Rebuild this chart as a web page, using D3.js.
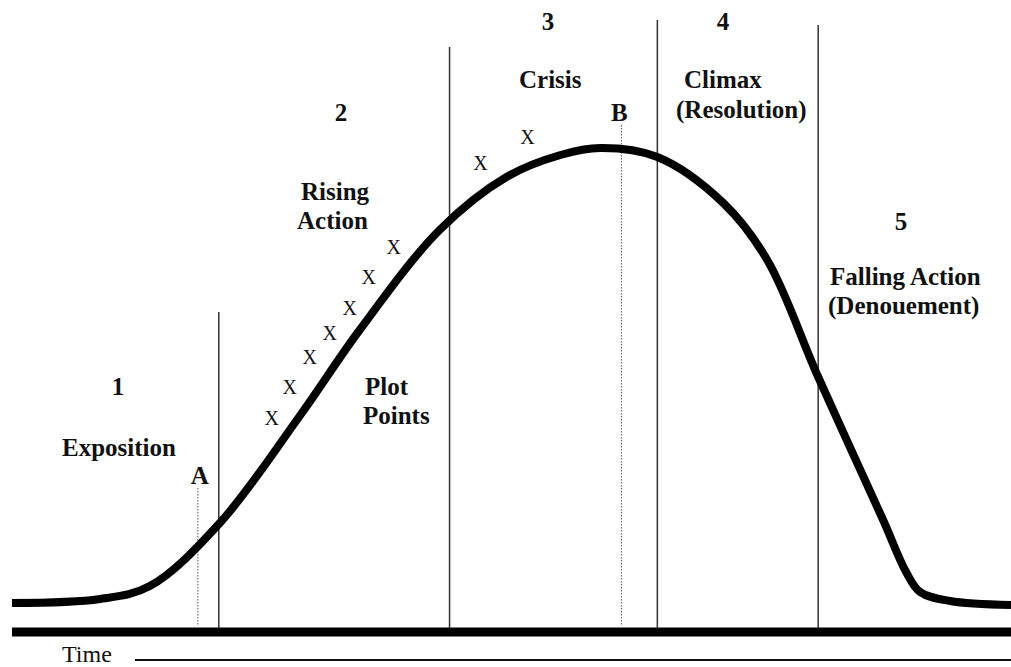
<!DOCTYPE html>
<html>
<head>
<meta charset="utf-8">
<script src="https://cdn.jsdelivr.net/npm/d3@7"></script>
<style>
body { margin: 0; background: #fff; }
svg text { font-family: "Liberation Serif", "Times New Roman", serif; fill: #111; }
</style>
</head>
<body>
<div id="chart"></div>
<script>
var width = 1011;
var height = 667;

// dramatic arc: time (0-100) vs tension
var arc_time = [0, 8.8, 13.8, 20.8, 28.8, 34.8, 42.8, 49.5, 54.9, 58.9, 64.6, 71.2, 75.6, 80.7, 87.2, 89.5, 90.9, 93.9, 100];
var arc_tension = [5.8, 6.6, 9.2, 21.8, 43.2, 60.4, 80.4, 91, 95.4, 96.8, 95, 85.8, 74.4, 51, 22.4, 12, 8, 6.2, 5.4];

// stage dividers
var divider_time = [20.7, 43.8, 64.6, 80.7];
var divider_top = [64, 117, 122.4, 121.4];

// points A and B (dotted markers)
var marker_names = ['A', 'B'];
var marker_time = [18.6, 61];
var marker_top = [28.8, 101.4];

// plot points (X)
var plot_time = [26.0, 27.8, 29.8, 31.8, 33.8, 35.7, 38.2, 46.9, 51.6];
var plot_tension = [42.8, 49, 55, 59.8, 64.8, 71, 77, 93.8, 99];

var stage_numbers = ['1', '2', '3', '4', '5'];
var stage_names = [['Exposition'], ['Rising', 'Action'], ['Crisis'], ['Climax', '(Resolution)'], ['Falling Action', '(Denouement)'], ['Plot', 'Points']];

var x = d3.scaleLinear().domain([0, 100]).range([12, 1011]);
var y = d3.scaleLinear().domain([0, 100]).range([632, 132]);

var svg = d3.select('#chart')
	.append('svg')
	.attr('width', width)
	.attr('height', height);

// stage divider lines
svg.selectAll('line.divider')
	.data(divider_time)
	.enter()
	.append('line')
	.attr('class', 'divider')
	.attr('x1', function(d){ return x(d); })
	.attr('x2', function(d){ return x(d); })
	.attr('y1', function(d, i){ return y(divider_top[i]); })
	.attr('y2', y(0) - 4)
	.attr('stroke', '#333')
	.attr('stroke-width', 1.5);

// dotted markers
svg.selectAll('line.marker')
	.data(marker_time)
	.enter()
	.append('line')
	.attr('class', 'marker')
	.attr('x1', function(d){ return x(d); })
	.attr('x2', function(d){ return x(d); })
	.attr('y1', function(d, i){ return y(marker_top[i]); })
	.attr('y2', y(0) - 7)
	.attr('stroke', '#555')
	.attr('stroke-width', 1)
	.attr('stroke-dasharray', '1.5,1.5');

// baseline
svg.append('line')
	.attr('x1', x(0)).attr('x2', x(100))
	.attr('y1', y(0)).attr('y2', y(0))
	.attr('stroke', '#000')
	.attr('stroke-width', 9);

// the arc
var arcData = arc_time.map(function(t, i){ return [t, arc_tension[i]]; });
var line = d3.line()
	.x(function(d){ return x(d[0]); })
	.y(function(d){ return y(d[1]); })
	.curve(d3.curveCatmullRom.alpha(0.5));

svg.append('path')
	.datum(arcData)
	.attr('d', line)
	.attr('fill', 'none')
	.attr('stroke', '#000')
	.attr('stroke-width', 8)
	.attr('stroke-linejoin', 'round');

// plot point X marks
svg.selectAll('text.plot')
	.data(plot_time)
	.enter()
	.append('text')
	.attr('class', 'plot')
	.attr('x', function(d){ return x(d); })
	.attr('y', function(d, i){ return y(plot_tension[i]); })
	.attr('text-anchor', 'middle')
	.attr('dy', '0.35em')
	.style('font-size', '20px')
	.text('X');

// stage numbers
var numberPos = [[118, 395], [341, 121], [548, 30], [723, 30], [901, 230]];
svg.selectAll('text.num')
	.data(stage_numbers)
	.enter()
	.append('text')
	.attr('class', 'num')
	.attr('x', function(d, i){ return numberPos[i][0]; })
	.attr('y', function(d, i){ return numberPos[i][1]; })
	.attr('text-anchor', 'middle')
	.style('font-size', '25px')
	.style('font-weight', 'bold')
	.text(function(d){ return d; });

// stage names (left x of each line, baseline of first line, line gap)
var nameLines = [
	[[62], 456, 0],
	[[301, 297], 200, 29],
	[[519], 88, 0],
	[[684, 676], 88, 30],
	[[830, 828], 285, 29],
	[[365, 363], 395, 29]
];
stage_names.forEach(function(lines, i){
	var t = svg.append('text')
		.style('font-size', '25px')
		.style('font-weight', 'bold');
	lines.forEach(function(s, j){
		t.append('tspan')
			.attr('x', nameLines[i][0][j])
			.attr('y', nameLines[i][1] + j * nameLines[i][2])
			.text(s);
	});
});

// marker labels
svg.selectAll('text.mlabel')
	.data(marker_names)
	.enter()
	.append('text')
	.attr('class', 'mlabel')
	.attr('x', function(d, i){ return x(marker_time[i]) + (i === 0 ? 2 : -2); })
	.attr('y', function(d, i){ return y(marker_top[i]) - 4; })
	.attr('text-anchor', 'middle')
	.style('font-size', '25px')
	.style('font-weight', 'bold')
	.text(function(d){ return d; });

// time axis
svg.append('text').attr('x', 62).attr('y', 662)
	.style('font-size', '24px').text('Time');
svg.append('line')
	.attr('x1', 135).attr('x2', width)
	.attr('y1', 660).attr('y2', 660)
	.attr('stroke', '#111')
	.attr('stroke-width', 2);
</script>
</body>
</html>
